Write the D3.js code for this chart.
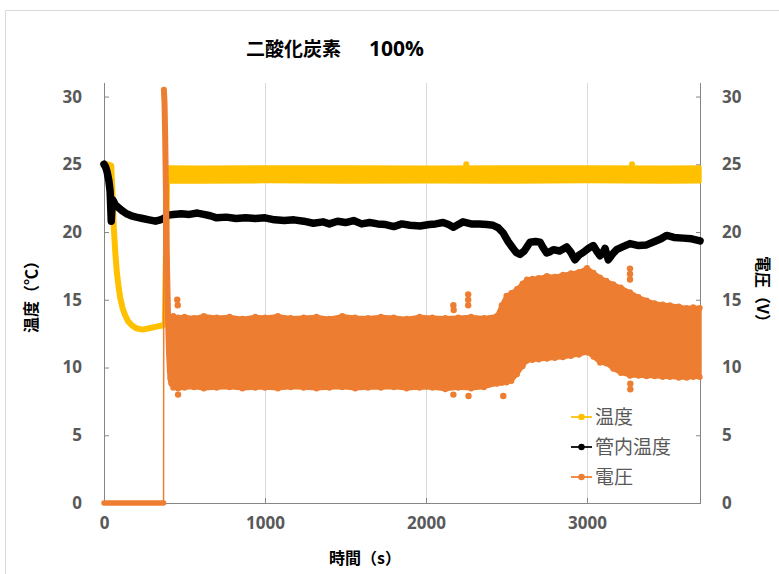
<!DOCTYPE html>
<html><head><meta charset="utf-8">
<script src="https://cdn.jsdelivr.net/npm/d3@7"></script>
<style>
html,body{margin:0;padding:0;background:#fff;}
svg{display:block;}
text{font-family:"Open Sans","Noto Sans CJK JP",sans-serif;}
.cjk{font-family:"Noto Sans CJK JP","Noto Sans",sans-serif;}
</style>
</head><body>
<svg id="chart" width="779" height="574"></svg>
<script>
// ---------- data ----------
const titleText = "二酸化炭素";
const titlePct = "100%";
const xTicks = [0, 1000, 2000, 3000];
const yTicks = [0, 5, 10, 15, 20, 25, 30];
const seriesNames = ["温度", "管内温度", "電圧"];

// 温度 (yellow): initial descent
const tempT = [0, 20, 45, 52, 60, 70, 80, 90, 100, 115, 130, 150, 175, 200, 240, 280, 320, 360, 378];
const tempV = [25, 25, 24.9, 23, 20.5, 18.5, 17, 16, 15.2, 14.4, 13.9, 13.4, 13.1, 12.9, 12.8, 12.9, 13.0, 13.1, 13.2];
// 温度 band after heater on (envelope of dense samples)
const tempBandT  = [392, 600, 1000, 1500, 2000, 2500, 3000, 3500, 3700];
const tempBandLo = [23.72, 23.72, 23.74, 23.72, 23.73, 23.72, 23.74, 23.72, 23.73];
const tempBandHi = [24.78, 24.76, 24.78, 24.78, 24.76, 24.78, 24.78, 24.76, 24.78];
const tempSpikeT = [2250, 3280];
const tempSpikeV = [25.0, 25.0];

// 管内温度 (black)
const innerT = [0,10,20,30,38,42,45,48,52,58,70,90,110,140,170,200,240,280,320,350,370,400,430,480,530,580,620,660,700,760,820,880,940,1000,1060,1120,1180,1240,1300,1360,1400,1450,1500,1550,1600,1650,1700,1750,1800,1850,1900,1963,2020,2060,2106,2140,2170,2200,2230,2280,2330,2380,2416,2450,2478,2510,2540,2560,2584,2610,2646,2680,2708,2730,2749,2770,2791,2830,2874,2900,2925,2950,2977,3010,3039,3060,3081,3100,3112,3132,3160,3184,3220,3267,3320,3370,3420,3460,3494,3540,3597,3650,3702];
const innerV = [25,24.8,24.4,23.8,23.0,21.8,20.8,21.5,22.4,22.3,22.0,21.8,21.6,21.35,21.2,21.1,21.0,20.9,20.8,20.9,21.0,21.25,21.3,21.35,21.3,21.4,21.3,21.2,21.05,21.1,21.0,21.05,21.0,21.05,20.9,20.85,20.9,20.8,20.65,20.75,20.6,20.8,20.7,20.85,20.6,20.7,20.6,20.55,20.4,20.6,20.5,20.45,20.55,20.6,20.7,20.55,20.35,20.55,20.75,20.6,20.6,20.55,20.5,20.3,19.95,19.3,18.8,18.5,18.35,18.6,19.25,19.3,19.25,18.8,18.45,18.55,18.7,18.6,18.9,18.5,17.95,18.3,18.5,18.8,19.0,18.6,18.25,18.5,18.8,17.95,18.4,18.7,18.9,19.15,19.0,19.05,19.3,19.5,19.75,19.6,19.55,19.5,19.35];

// 電圧 (orange): off period and start spike
const voltT = [0, 100, 200, 300, 370, 372, 376, 380, 386, 392, 398, 404, 410, 418];
const voltV = [0, 0, 0, 0, 0, 30.5, 29.5, 27, 22, 17, 13.5, 11, 9.6, 8.8];
// 電圧 oscillation envelope
const voltBandT  = [412,430,460,500,560,620,700,780,860,940,1000,1080,1160,1240,1320,1400,1480,1560,1640,1720,1800,1880,1960,2040,2120,2200,2280,2360,2440,2470,2500,2530,2565,2600,2627,2660,2700,2751,2800,2851,2900,2950,3000,3040,3081,3120,3163,3210,3267,3320,3370,3420,3470,3515,3570,3620,3660,3700];
const voltBandHi = [13.0,13.8,13.7,13.75,13.65,13.8,13.7,13.75,13.6,13.75,13.7,13.8,13.65,13.7,13.75,13.6,13.8,13.7,13.65,13.75,13.7,13.6,13.75,13.7,13.65,13.7,13.75,13.65,13.8,14.6,15.3,15.5,15.8,16.2,16.5,16.55,16.6,16.75,16.7,16.85,16.95,17.05,17.35,17.0,16.65,16.4,16.15,15.9,15.55,15.2,14.95,14.75,14.65,14.6,14.5,14.4,14.45,14.4];
const voltBandLo = [9.2,8.5,8.45,8.5,8.55,8.45,8.5,8.55,8.45,8.5,8.5,8.45,8.55,8.5,8.45,8.5,8.55,8.45,8.5,8.5,8.55,8.45,8.5,8.5,8.4,8.5,8.45,8.55,8.8,8.85,8.9,9.0,9.5,10.1,10.5,10.55,10.6,10.65,10.7,10.75,10.85,10.95,11.1,10.8,10.35,10.3,9.9,9.6,9.4,9.4,9.35,9.35,9.3,9.3,9.25,9.25,9.3,9.3];
// isolated outliers
const voltSpikeT = [455, 458, 2170, 2172, 2170, 2262, 2262, 2262, 2264, 3267, 3267, 3267, 3269, 3269, 460, 2480];
const voltSpikeV = [15.0, 14.6, 14.6, 14.25, 8.0, 15.4, 15.0, 14.6, 7.9, 17.3, 16.9, 16.5, 8.4, 8.8, 8.0, 7.9];

// ---------- layout ----------
const svg = d3.select("#chart");
const W = 779, H = 574;
const mL = 104, mR = 701, mT = 83, mB = 503;
const x = d3.scaleLinear().domain([0, 3708]).range([mL, mR]);
const y = d3.scaleLinear().domain([0, 31]).range([mB, mT]);
const yR = d3.scaleLinear().domain([0, 31]).range([mB, mT]);

const C_Y = "#FFC000", C_K = "#000000", C_O = "#ED7D31";
const gridC = "#D9D9D9", axisC = "#868686", tickTxt = "#595959";

// chart border
svg.append("path").attr("d", `M5.5,${H} L5.5,10.5 L${W},10.5`).attr("fill", "none").attr("stroke", gridC).attr("stroke-width", 1);

// gridlines
svg.append("g").selectAll("line").data(xTicks.filter(d => d > 0)).join("line")
  .attr("x1", d => Math.round(x(d)) + 0.5).attr("x2", d => Math.round(x(d)) + 0.5)
  .attr("y1", mT).attr("y2", mB).attr("stroke", gridC).attr("stroke-width", 1);

// axes
const xAxis = d3.axisBottom(x).tickValues(xTicks).tickSize(-5).tickPadding(14).tickFormat(d3.format("d"));
const yAxis = d3.axisLeft(y).tickValues(yTicks).tickSize(-5).tickPadding(22);
const yAxisR = d3.axisRight(yR).tickValues(yTicks).tickSize(-5).tickPadding(21);

function styleAxis(g) {
  g.select(".domain").attr("stroke", axisC).attr("stroke-width", 1);
  g.selectAll(".tick line").attr("stroke", axisC);
  g.selectAll(".tick text").attr("fill", tickTxt).attr("font-size", 17).attr("font-weight", "bold")
    .attr("font-family", "'Open Sans', sans-serif");
}
const gx = svg.append("g").attr("transform", `translate(0,${mB})`).call(xAxis).call(styleAxis);
gx.select(".domain").attr("d", `M${mL},0.5H${mR}`);
const gy = svg.append("g").attr("transform", `translate(${mL},0)`).call(yAxis).call(styleAxis);
gy.select(".domain").attr("d", `M0.5,${mT}V${mB}`);
const gyR = svg.append("g").attr("transform", `translate(${mR},0)`).call(yAxisR).call(styleAxis);
gyR.select(".domain").attr("d", `M-0.5,${mT}V${mB}`);

// ---------- series ----------
const line = d3.line().x(d => x(d[0])).y(d => y(d[1]));
const lineR = d3.line().x(d => x(d[0])).y(d => yR(d[1]));
const zip = (a, b) => a.map((t, i) => [t, b[i]]);

// 温度
const tempPts = zip(tempT, tempV);
const tBand = tempBandT.map((t, i) => ({t, lo: tempBandLo[i], hi: tempBandHi[i]}));
const areaT = d3.area().x(d => x(d.t)).y0(d => y(d.lo)).y1(d => y(d.hi));
const gT = svg.append("g");
gT.append("path").attr("d", line(tempPts.concat([[392, 24.2]]))).attr("fill", "none").attr("stroke", C_Y)
  .attr("stroke-width", 6).attr("stroke-linejoin", "round").attr("stroke-linecap", "round");
gT.append("path").attr("d", areaT(tBand)).attr("fill", C_Y).attr("stroke", C_Y)
  .attr("stroke-width", 4).attr("stroke-linejoin", "round");
gT.selectAll("circle").data(zip(tempSpikeT, tempSpikeV)).join("circle")
  .attr("cx", d => x(d[0])).attr("cy", d => y(d[1])).attr("r", 3).attr("fill", C_Y);

// 管内温度
svg.append("path").attr("d", line(zip(innerT, innerV))).attr("fill", "none").attr("stroke", C_K)
  .attr("stroke-width", 7.5).attr("stroke-linejoin", "round").attr("stroke-linecap", "round");

// 電圧 (secondary axis)
const vPts = zip(voltT, voltV);
const gV = svg.append("g");
gV.append("path").attr("d", lineR(vPts)).attr("fill", "none").attr("stroke", C_O).attr("stroke-width", 1.5);
gV.append("path").attr("d", lineR(vPts.slice(0, 5))).attr("fill", "none").attr("stroke", C_O)
  .attr("stroke-width", 5.5).attr("stroke-linecap", "round");
gV.append("path").attr("d", lineR(vPts.slice(5))).attr("fill", "none").attr("stroke", C_O)
  .attr("stroke-width", 6).attr("stroke-linecap", "round").attr("stroke-linejoin", "round");
const vBand = voltBandT.map((t, i) => ({t, lo: voltBandLo[i], hi: voltBandHi[i]}));
const areaV = d3.area().x(d => x(d.t)).y0(d => yR(d.lo)).y1(d => yR(d.hi));
gV.append("path").attr("d", areaV(vBand)).attr("fill", C_O).attr("stroke", C_O)
  .attr("stroke-width", 4).attr("stroke-linejoin", "round");
gV.selectAll("circle.hi").data(vBand).join("circle").attr("class", "hi")
  .attr("cx", d => x(d.t)).attr("cy", d => yR(d.hi)).attr("r", 3).attr("fill", C_O);
gV.selectAll("circle.lo").data(vBand).join("circle").attr("class", "lo")
  .attr("cx", d => x(d.t)).attr("cy", d => yR(d.lo)).attr("r", 3).attr("fill", C_O);
gV.selectAll("circle.sp").data(zip(voltSpikeT, voltSpikeV)).join("circle").attr("class", "sp")
  .attr("cx", d => x(d[0])).attr("cy", d => yR(d[1])).attr("r", 3.2).attr("fill", C_O);

// ---------- text ----------
const title = svg.append("text").attr("class", "cjk").attr("x", 246).attr("y", 56)
  .attr("font-size", 19).attr("font-weight", "bold").attr("fill", "#000");
title.append("tspan").text(titleText);
title.append("tspan").attr("dx", 28).attr("font-size", 21).attr("font-family", "'Open Sans',sans-serif").text(titlePct);

svg.append("text").attr("class", "cjk").attr("x", 365).attr("y", 564).attr("text-anchor", "middle")
  .attr("font-size", 16).attr("font-weight", "bold").text("時間（s）");
svg.append("text").attr("class", "cjk").attr("transform", `translate(37,293) rotate(-90)`)
  .attr("text-anchor", "middle").attr("font-size", 16).attr("font-weight", "bold").text("温度（℃）");
svg.append("text").attr("class", "cjk").attr("transform", `translate(757,293) rotate(90)`)
  .attr("text-anchor", "middle").attr("font-size", 16).attr("font-weight", "bold").text("電圧（V）");

// legend
const legColors = [C_Y, C_K, C_O];
const legY = [417, 447, 477];
const lg = svg.append("g");
seriesNames.forEach((n, i) => {
  lg.append("line").attr("x1", 571).attr("x2", 592).attr("y1", legY[i]).attr("y2", legY[i])
    .attr("stroke", legColors[i]).attr("stroke-width", 1.75);
  lg.append("circle").attr("cx", 581.5).attr("cy", legY[i]).attr("r", 3.2).attr("fill", legColors[i]);
  lg.append("text").attr("class", "cjk").attr("x", 595).attr("y", legY[i]).attr("dy", "0.36em")
    .attr("font-size", 19).attr("fill", tickTxt).text(n);
});
</script>
</body></html>
